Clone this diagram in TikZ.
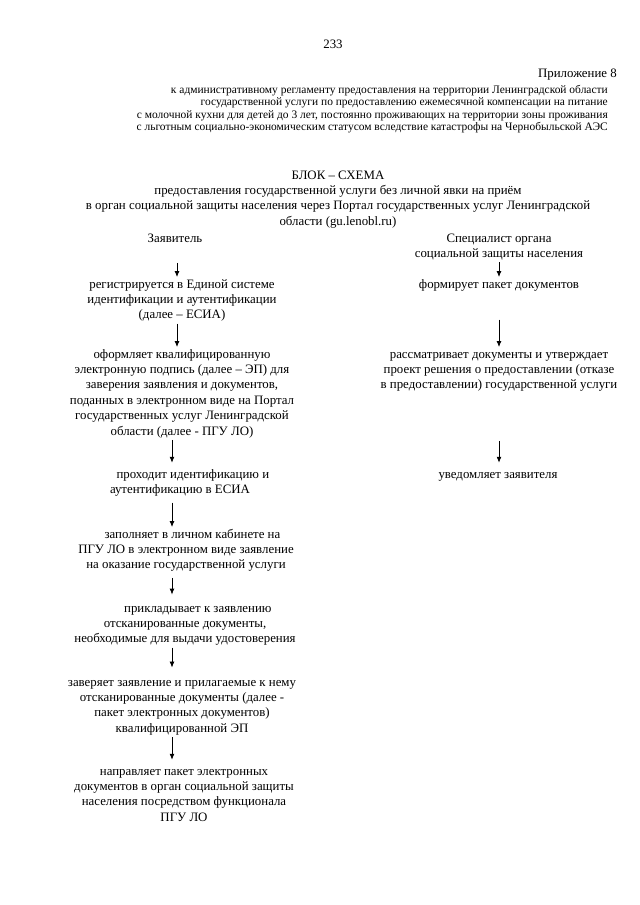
\documentclass[tikz,border=0pt]{standalone}
\usepackage{fontspec}
\setmainfont{Liberation Serif}
\usetikzlibrary{arrows.meta,positioning,calc}

\begin{document}
\begin{tikzpicture}[x=0.328125mm,y=-0.328125mm,
  txt/.style={align=center,inner sep=0pt,anchor=north,font=\fontsize{12}{14.4}\selectfont},
  hdr/.style={align=right,inner sep=0pt,anchor=north east,font=\fontsize{10.7}{11.8}\selectfont},
  arr/.style={-{Latex[length=5.5pt,width=4.5pt]},line width=0.7pt}]
\useasboundingbox (0,0) rectangle (640,905);
\coordinate (colA) at (177,0); \coordinate (colB) at (172,0); \coordinate (colR) at (499,0);

\node[txt] (page) at (333,37) {\strut 233};
\node[txt,anchor=north east] (pril) at (617,66) {\strut Приложение 8};
\node[hdr] (head) at (608,84) {\strut к  административному регламенту предоставления на территории Ленинградской области\\
  государственной услуги  по  предоставлению ежемесячной компенсации  на питание\\
  с молочной кухни для детей до 3 лет, постоянно проживающих на территории зоны проживания\\
  с льготным социально-экономическим статусом вследствие катастрофы на Чернобыльской АЭС\strut};

\node[txt] (title) at (338,168) {\strut БЛОК – СХЕМА\\
  предоставления государственной услуги  без личной явки на приём\\
  в орган социальной защиты населения через Портал государственных услуг Ленинградской\\
  области (gu.lenobl.ru)\strut};

\node[txt] (zay) at (175,231) {\strut Заявитель\strut};
\node[txt] (spec) at (499,231) {\strut Специалист органа\\ социальной защиты населения\strut};

% заявитель
\node[txt] (esia) at (182,277) {\strut регистрируется в Единой системе\\ идентификации и аутентификации\\ (далее – ЕСИА)\strut};
\node[txt] (ep) at (182,347) {\strut оформляет  квалифицированную\\ электронную подпись (далее – ЭП) для\\ заверения заявления и документов,\\
  поданных в электронном виде на Портал\\ государственных услуг Ленинградской\\ области (далее - ПГУ ЛО)\strut};
\node[txt] (ident) at (180,467) {\strut\hspace{2em}проходит идентификацию и\\ аутентификацию в ЕСИА\strut};
\node[txt] (zapoln) at (186,527) {\strut\hspace{1em}заполняет в личном кабинете на\\ ПГУ ЛО в электронном виде заявление\\ на оказание государственной услуги\strut};
\node[txt] (prikl) at (185,601) {\strut\hspace{2em}прикладывает  к заявлению\\ отсканированные документы,\\ необходимые для выдачи удостоверения\strut};
\node[txt] (zaver) at (182,675) {\strut заверяет заявление и прилагаемые к нему\\ отсканированные документы (далее -\\ пакет электронных документов)\\ квалифицированной ЭП\strut};
\node[txt] (naprav) at (184,764) {\strut направляет пакет электронных\\ документов в орган социальной защиты\\ населения посредством функционала\\ ПГУ ЛО\strut};

% специалист
\node[txt] (form) at (499,277) {\strut формирует пакет документов\strut};
\node[txt] (rassm) at (499,347) {\strut рассматривает документы и утверждает\\ проект решения о предоставлении (отказе\\ в предоставлении) государственной услуги\strut};
\node[txt] (uved) at (498,467) {\strut уведомляет заявителя\strut};

\draw[arr,shorten <=15pt] (zay.south -| colA) -- (esia.north -| colA);
\draw[arr] (esia.south -| colA) -- (ep.north -| colA);
\draw[arr,shorten >=4pt] (ep.south -| colB) -- (ident.north -| colB);
\draw[arr,shorten <=4pt] (ident.south -| colB) -- (zapoln.north -| colB);
\draw[arr,shorten <=4pt,shorten >=6pt] (zapoln.south -| colB) -- (prikl.north -| colB);
\draw[arr,shorten >=7pt] (prikl.south -| colB) -- (zaver.north -| colB);
\draw[arr,shorten >=4pt] (zaver.south -| colB) -- (naprav.north -| colB);

\draw[arr] (spec.south -| colR) -- (form.north -| colR);
\draw[arr,shorten <=25pt] (form.south -| colR) -- (rassm.north -| colR);
\draw[arr,shorten <=44pt,shorten >=4pt] (rassm.south -| colR) -- (uved.north -| colR);
\end{tikzpicture}
\end{document}
